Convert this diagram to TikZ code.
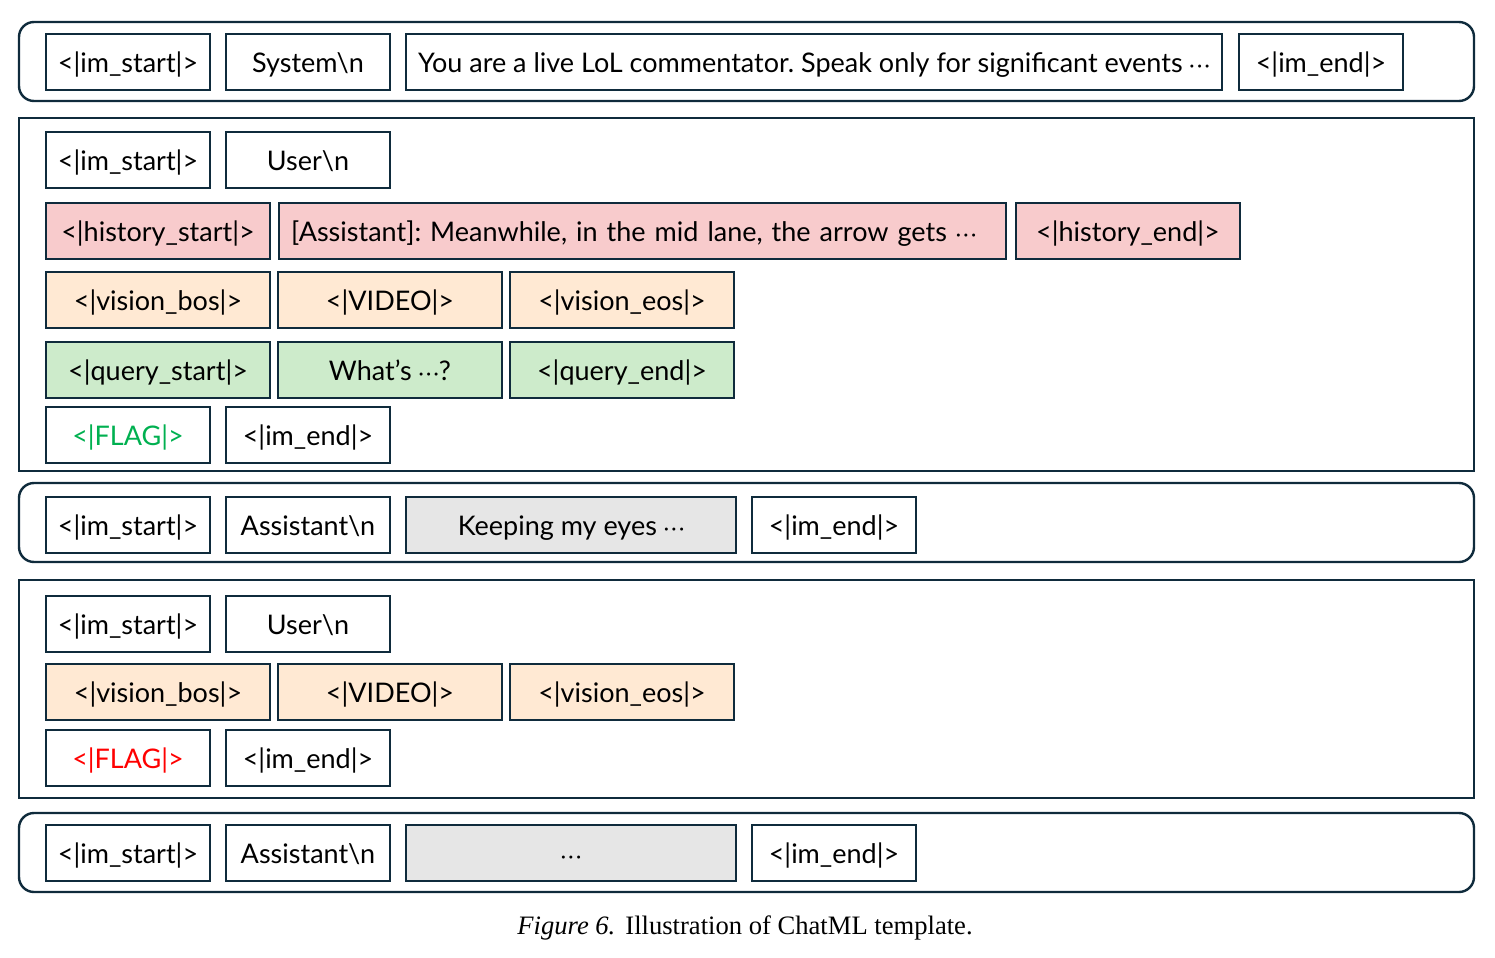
\documentclass[tikz,border=0pt]{standalone}
\usepackage{fontspec}
\setmainfont{Liberation Serif}
\setsansfont{Lato}
\usetikzlibrary{positioning}
\definecolor{lineDark}{HTML}{0F2B3C}
\definecolor{histFill}{HTML}{F8CBCC}
\definecolor{visFill}{HTML}{FFE9D3}
\definecolor{queryFill}{HTML}{CDEBCB}
\definecolor{replyFill}{HTML}{E6E6E6}
\definecolor{flagGreen}{HTML}{00B050}
\definecolor{flagRed}{HTML}{FF0000}
\newcommand{\tok}[1]{<|#1|>}
\newcommand{\mdots}{{\fontsize{10}{10}\selectfont ·\kern1.2pt·\kern1.2pt·}}
\frenchspacing

\begin{document}
\begin{tikzpicture}[x=0.5pt,y=-0.5pt,every node/.style={font=\sffamily\fontsize{13.5}{16}\selectfont}]
  \tikzstyle{tokbox}=[draw=lineDark,line width=1pt,inner sep=0pt,outer sep=0pt,
                      minimum height=28pt,minimum width=82pt,
                      text height=12pt,text depth=2pt]
  \tikzstyle{widebox}=[tokbox,minimum width=112pt]
  \tikzstyle{frame}=[draw=lineDark,line width=1.2pt]
  \useasboundingbox (0,0) rectangle (1495,958);
  % turn frames
  \draw[frame,rounded corners=7.5pt] (19,22) rectangle (1474,101);
  \draw[frame] (19,118) rectangle (1474,471);
  \draw[frame,rounded corners=7.5pt] (19,483) rectangle (1474,562);
  \draw[frame] (19,580) rectangle (1474,798);
  \draw[frame,rounded corners=7.5pt] (19,813) rectangle (1474,892);
  % system turn
  \node[tokbox,anchor=north west] (sysA) at (46,34) {\tok{im\_start}};
  \node[tokbox,right=8pt of sysA] (sysB) {System\textbackslash n};
  \node[tokbox,minimum width=408pt,right=8pt of sysB] (sysC)
       {You are a live LoL commentator. Speak only for significant events \mdots};
  \node[tokbox,right=8.5pt of sysC] (sysD) {\tok{im\_end}};
  % first user turn
  \node[tokbox,anchor=north west] (usrA) at (46,132) {\tok{im\_start}};
  \node[tokbox,right=8pt of usrA] (usrB) {User\textbackslash n};
  \node[widebox,fill=histFill,anchor=north west] (histA) at (46,203) {\tok{history\_start}};
  \node[tokbox,fill=histFill,minimum width=363.5pt,text width=351.5pt,
        inner xsep=6pt,align=left,right=4.5pt of histA] (histB)
       {[Assistant]: Meanwhile, in the mid lane, the arrow gets \mdots};
  \node[widebox,fill=histFill,right=5pt of histB] (histC) {\tok{history\_end}};
  \node[widebox,fill=visFill,anchor=north west] (visA) at (46,272) {\tok{vision\_bos}};
  \node[widebox,fill=visFill,right=4pt of visA] (visB) {\tok{VIDEO}};
  \node[widebox,fill=visFill,right=4pt of visB] (visC) {\tok{vision\_eos}};
  \node[widebox,fill=queryFill,anchor=north west] (qryA) at (46,342) {\tok{query\_start}};
  \node[widebox,fill=queryFill,right=4pt of qryA] (qryB) {What’s \mdots?};
  \node[widebox,fill=queryFill,right=4pt of qryB] (qryC) {\tok{query\_end}};
  \node[tokbox,text=flagGreen,anchor=north west] (flgA) at (46,407) {\tok{FLAG}};
  \node[tokbox,right=8pt of flgA] (flgB) {\tok{im\_end}};
  % first assistant turn
  \node[tokbox,anchor=north west] (astA) at (46,497) {\tok{im\_start}};
  \node[tokbox,right=8pt of astA] (astB) {Assistant\textbackslash n};
  \node[tokbox,fill=replyFill,minimum width=165pt,right=8pt of astB] (astC) {Keeping my eyes \mdots};
  \node[tokbox,right=8pt of astC] (astD) {\tok{im\_end}};
  % second user turn
  \node[tokbox,anchor=north west] (usr2A) at (46,596) {\tok{im\_start}};
  \node[tokbox,right=8pt of usr2A] (usr2B) {User\textbackslash n};
  \node[widebox,fill=visFill,anchor=north west] (vis2A) at (46,664) {\tok{vision\_bos}};
  \node[widebox,fill=visFill,right=4pt of vis2A] (vis2B) {\tok{VIDEO}};
  \node[widebox,fill=visFill,right=4pt of vis2B] (vis2C) {\tok{vision\_eos}};
  \node[tokbox,text=flagRed,anchor=north west] (flg2A) at (46,730) {\tok{FLAG}};
  \node[tokbox,right=8pt of flg2A] (flg2B) {\tok{im\_end}};
  % second assistant turn
  \node[tokbox,anchor=north west] (ast2A) at (46,825) {\tok{im\_start}};
  \node[tokbox,right=8pt of ast2A] (ast2B) {Assistant\textbackslash n};
  \node[tokbox,fill=replyFill,minimum width=165pt,right=8pt of ast2B] (ast2C) {\mdots};
  \node[tokbox,right=8pt of ast2C] (ast2D) {\tok{im\_end}};
  % caption
  \node[font=\rmfamily\fontsize{13.3}{16}\selectfont] (capt) at (745,928)
       {\textit{Figure 6.}\hspace{5pt}Illustration of ChatML template.};
\end{tikzpicture}
\end{document}
